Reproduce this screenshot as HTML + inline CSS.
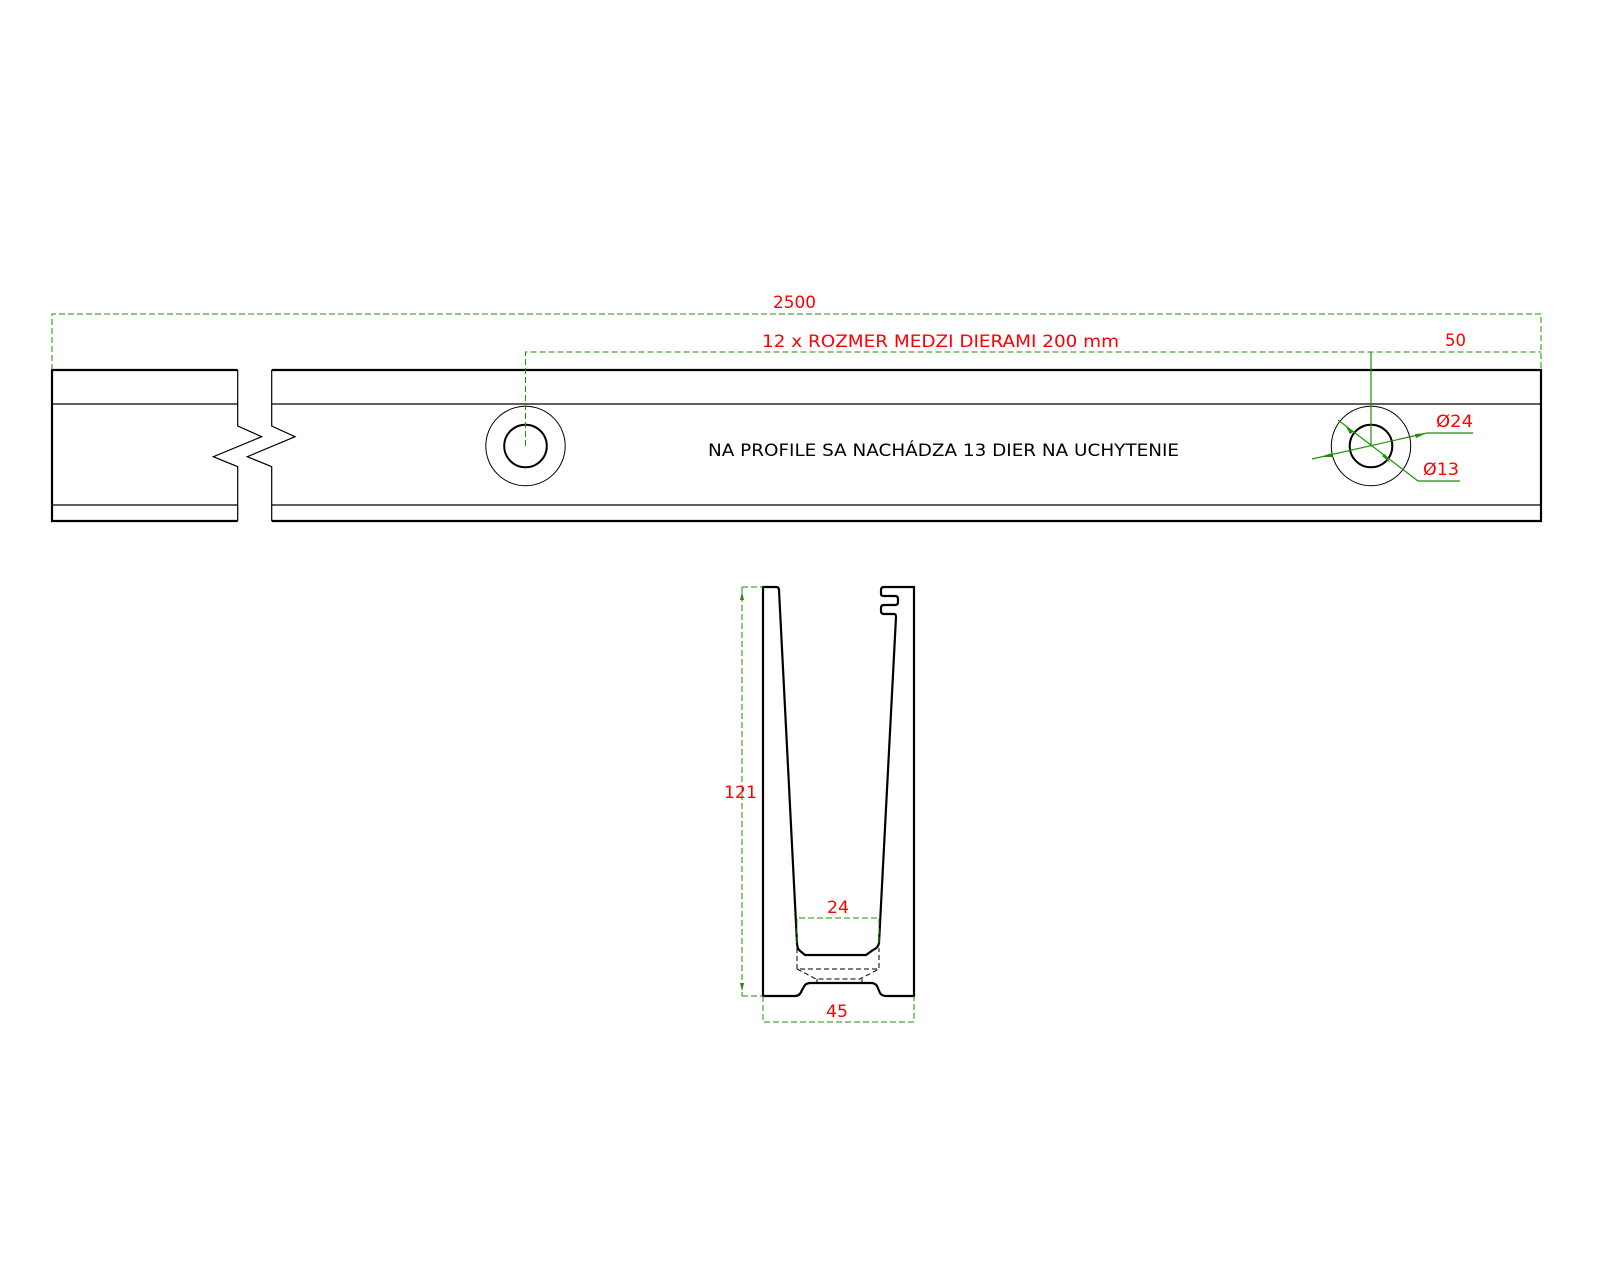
<!DOCTYPE html>
<html><head><meta charset="utf-8"><style>html,body{margin:0;padding:0;background:#fff}svg{display:block}</style></head>
<body>
<svg width="1600" height="1280" viewBox="0 0 1600 1280" xmlns="http://www.w3.org/2000/svg" font-family="'DejaVu Sans','Liberation Sans',sans-serif">
<g fill="none" stroke="#000">
  <path d="M237.7,370 H52 V521 H237.7 M271.7,370 H1541 V521 H271.7" stroke-width="2.2"/>
  <path d="M237.7,370 V426 L261.7,436.7 L213.3,456.7 L237.7,466.7 V521 M271.7,370 V426 L295,436.7 L247.3,456.7 L271.7,466.7 V521" stroke-width="1.2"/>
  <path d="M52,404 H237.7 M52,505 H237.7 M271.7,404 H1541 M271.7,505 H1541" stroke-width="1.3"/>
  <circle cx="525.5" cy="446" r="39.7" stroke-width="1"/>
  <circle cx="525.5" cy="446" r="21.3" stroke-width="2"/>
  <circle cx="1371" cy="446" r="39.7" stroke-width="1"/>
  <circle cx="1371" cy="446" r="21.3" stroke-width="2"/>
  <path d="M763,587 V996 H795 Q800,996 802,990 L805,985 Q807,983 811,983 H871 Q875,983 877,986 L880,993 Q882,996 886,996 H914 V587 H884 Q881,587 881,590 V594 Q881,596 884,596 H895 Q898,596 898,599 V602 Q898,605 895,605 H884 Q881,605 881,608 V611 Q881,614 884,614 H894 Q896,614 896,617 L879,943 Q878,948 873,950 L866,955 H805 L799,950 Q797,947 797,943 L779,590 Q779,587 776,587 Z" stroke-width="2.2"/>
  <path d="M797,948 V969 H879 V948 M797,969 L816,979 H860 L879,969 M817,979 V983 M862,979 V983" stroke-width="1" stroke-dasharray="5,3"/>
</g>
<g fill="none" stroke="#1f8f0a" stroke-width="1.2" stroke-dasharray="6,3" shape-rendering="crispEdges">
  <path d="M52,370 V314 H1541 V370"/>
  <path d="M525.5,446 V352 H1541"/>
  <path d="M742,587 H763 M742,996 H763 M742,587 V996"/>
  <path d="M797,943 V918 H879 V943"/>
  <path d="M763,996 V1022 H914 V996"/>
</g>
<g stroke="#1f8f0a" stroke-width="1.2" fill="none">
  <path d="M1371,352 V446"/>
  <path d="M1312,459 L1427,433 H1473" />
  <path d="M1338,420 L1418,481 H1460"/>
</g>
<g fill="#1f8f0a">
  <path d="M1427,433 l-12,1 l1,4 z M1320,457 l12,-4 l1,4 z"/>
  <path d="M1345,425 l8,7 l-3,2 z M1390,463 l-8,-7 l3,-2 z"/>
  <path d="M742,592 l-2,8 h4 z M742,991 l-2,-8 h4 z"/>
</g>
<g fill="#f00" font-size="17">
  <text x="773" y="308" textLength="43" lengthAdjust="spacingAndGlyphs">2500</text>
  <text x="762" y="347" textLength="357" lengthAdjust="spacingAndGlyphs">12 x ROZMER MEDZI DIERAMI 200 mm</text>
  <text x="1445" y="346" textLength="21" lengthAdjust="spacingAndGlyphs">50</text>
  <text x="1436" y="427" textLength="37" lengthAdjust="spacingAndGlyphs">Ø24</text>
  <text x="1423" y="475" textLength="36" lengthAdjust="spacingAndGlyphs">Ø13</text>
  <text x="724" y="798" textLength="33" lengthAdjust="spacingAndGlyphs">121</text>
  <text x="827" y="913" textLength="22" lengthAdjust="spacingAndGlyphs">24</text>
  <text x="826" y="1017" textLength="22" lengthAdjust="spacingAndGlyphs">45</text>
</g>
<text x="708" y="456" font-size="17" fill="#000" textLength="471" lengthAdjust="spacingAndGlyphs">NA PROFILE SA NACHÁDZA 13 DIER NA UCHYTENIE</text>
</svg>
</body></html>
